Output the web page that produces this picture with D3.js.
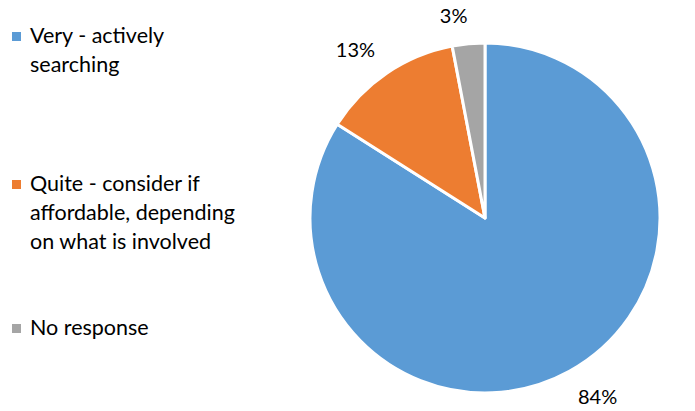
<!DOCTYPE html>
<html>
<head>
<meta charset="utf-8">
<script src="https://cdn.jsdelivr.net/npm/d3@7"></script>
<style>
  body { margin: 0; background: #fff; }
  svg text { font-family: Lato, "Open Sans", sans-serif; fill: #000; }
</style>
</head>
<body>
<svg id="chart" width="695" height="411"></svg>
<script>
// categories, values and colours
var categories = ["Very - actively searching",
    "Quite - consider if affordable, depending on what is involved",
    "No response"];
var legendLines = [["Very - actively", "searching"],
    ["Quite - consider if", "affordable, depending", "on what is involved"],
    ["No response"]];
var values = [84, 13, 3];
var colors = ["#5b9bd5", "#ed7d31", "#a5a5a5"];

var svg = d3.select("#chart");

var cx = 485, cy = 218, radius = 175;

var pie = d3.pie().sort(null).value((d) => d);
var arcs = pie(values);

var arc = d3.arc().innerRadius(0).outerRadius(radius);

var g = svg.append("g").attr("transform", "translate(" + cx + "," + cy + ")");

g.selectAll("path")
    .data(arcs)
    .enter()
    .append("path")
    .attr("d", arc)
    .attr("fill", (d, i) => colors[i])
    .attr("stroke", "#fff")
    .attr("stroke-width", 3)
    .attr("stroke-linejoin", "round");

// outside-end labels: push the label box out until it clears the rim by a gap
var gap = 18;
var skew = -0.06; // labels sit a little anticlockwise of the slice middle
g.selectAll("text.lbl")
    .data(arcs)
    .enter()
    .append("text")
    .attr("class", "lbl")
    .attr("text-anchor", "middle")
    .attr("dy", "0.35em")
    .style("font-size", "20px")
    .text((d) => d.data + "%")
    .each(function (d) {
        var bb = this.getBBox();
        var a = (d.startAngle + d.endAngle) / 2 + skew;
        var s = Math.sin(a), c = Math.cos(a);
        var ext = bb.width / 2 * Math.abs(s) + bb.height / 2 * 0.75 * Math.abs(c);
        var dist = radius + gap + ext;
        d3.select(this).attr("transform", "translate(" + (dist * s) + "," + (-dist * c) + ")");
    });

// legend
var legendY = [37, 185, 329];
var lineH = 29;

var leg = svg.selectAll("g.legend")
    .data(categories)
    .enter()
    .append("g")
    .attr("class", "legend")
    .attr("transform", (d, i) => "translate(0," + legendY[i] + ")");

leg.append("rect")
    .attr("x", 12)
    .attr("y", -5)
    .attr("width", 9)
    .attr("height", 9)
    .attr("fill", (d, i) => colors[i]);

leg.each(function (d, i) {
    var t = d3.select(this).append("text")
        .style("font-size", "21.5px");
    legendLines[i].forEach((line, j) => {
        t.append("tspan")
            .attr("x", 30)
            .attr("y", j * lineH)
            .attr("dy", "0.3em")
            .text(line);
    });
});
</script>
</body>
</html>
